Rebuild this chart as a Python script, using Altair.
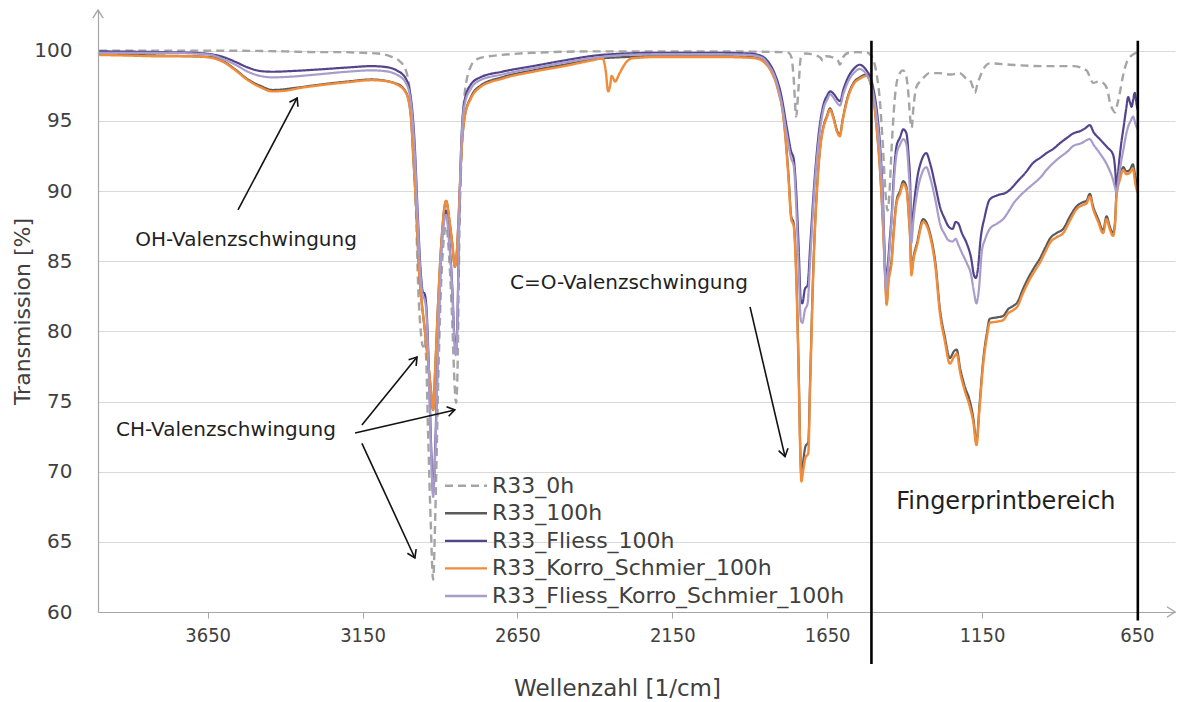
import altair as alt
import pandas as pd

# ---------------- data (wavenumber [1/cm], transmission [%]) ----------------
r33_0h = [(4000,100.0),(3800,100.0),(3600,100.0),(3400,99.95),(3300,99.9),(3220,99.9),(3150,99.85),(3100,99.8),
          (3060,99.6),(3030,99.25),(3010,98.6),(2998,97.2),(2988,94.5),(2978,89.0),(2970,83.0),(2962,80.0),
          (2955,78.9),(2950,79.4),(2945,78.3),(2938,72.5),(2930,66.5),(2922,62.3),(2915,67.0),(2905,77.0),
          (2895,84.0),(2880,87.5),(2870,85.2),(2860,80.5),(2853,76.3),(2848,74.9),(2843,77.5),(2838,86.0),
          (2830,93.0),(2820,97.0),(2800,98.9),(2780,99.4),(2740,99.6),(2700,99.7),(2600,99.85),(2400,99.95),
          (2000,99.95),(1800,99.9),(1775,99.85),(1765,99.5),(1758,98.0),(1750,95.3),(1743,97.2),(1735,99.5),
          (1720,99.8),(1690,99.7),(1672,99.5),(1664,99.3),(1655,99.6),(1630,99.5),(1615,99.3),(1609,99.0),
          (1600,99.5),(1580,99.85),(1550,99.9),(1520,99.85),(1510,99.7),(1500,99.3),(1490,98.3),(1480,96.5),
          (1470,93.2),(1462,90.0),(1455,88.6),(1449,89.8),(1442,93.0),(1432,96.5),(1420,98.2),(1405,98.6),
          (1396,98.3),(1388,97.0),(1382,95.2),(1377,94.5),(1372,95.8),(1362,97.4),(1345,97.9),(1320,98.4),
          (1290,98.4),(1250,98.3),(1222,98.4),(1200,98.0),(1189,97.9),(1178,97.3),(1173,97.0),(1165,97.6),
          (1152,98.4),(1125,99.1),(1060,99.0),(960,98.9),(899,98.9),(856,98.9),(813,98.6),(791,97.7),
          (775,97.8),(759,97.7),(745,97.2),(737,96.3),(728,95.8),(721,95.6),(713,96.2),(705,97.0),
          (695,98.2),(684,99.1),(670,99.6),(657,99.8),(648,99.9)]

r33_100h = [(4000,99.75),(3800,99.65),(3640,99.55),(3600,99.25),(3560,98.65),(3520,97.95),(3480,97.5),(3440,97.2),
            (3350,97.4),(3300,97.55),(3200,97.8),(3120,97.95),(3040,97.65),(3010,97.05),(2995,95.6),(2985,92.0),
            (2975,88.0),(2968,84.5),(2960,82.3),(2950,80.3),(2940,78.2),(2930,76.0),(2922,74.4),(2915,77.5),
            (2905,82.5),(2895,86.5),(2880,89.3),(2870,88.0),(2860,86.2),(2852,84.6),(2846,85.5),(2838,89.0),
            (2830,93.0),(2820,95.3),(2800,96.7),(2770,97.5),(2700,98.1),(2600,98.6),(2500,99.0),(2400,99.4),
            (2300,99.55),(2200,99.6),(2000,99.6),(1900,99.55),(1870,99.45),(1850,99.15),(1830,98.55),(1810,97.4),
            (1790,95.1),(1775,91.2),(1766,88.2),(1758,87.7),(1750,84.3),(1742,77.3),(1737,71.8),(1733,69.6),
            (1728,70.6),(1720,71.8),(1711,72.1),(1705,76.5),(1695,84.3),(1680,91.2),(1670,93.6),(1663,94.5),
            (1650,95.4),(1641,95.9),(1630,95.3),(1618,94.3),(1609,94.0),(1600,95.1),(1585,96.6),(1565,97.7),
            (1545,98.1),(1523,98.3),(1512,97.9),(1500,96.6),(1490,94.5),(1478,91.1),(1469,87.3),(1462,83.6),
            (1458,82.0),(1452,83.7),(1442,85.1),(1435,87.2),(1426,89.3),(1415,90.0),(1404,90.7),(1394,90.3),
            (1386,88.2),(1382,86.7),(1378,84.2),(1372,85.2),(1360,86.3),(1340,88.0),(1318,87.0),(1300,84.8),
            (1286,81.6),(1270,79.6),(1254,78.1),(1240,78.6),(1232,78.7),(1220,77.3),(1206,76.1),(1189,75.0),
            (1178,73.8),(1168,72.1),(1158,74.8),(1146,78.0),(1135,79.8),(1125,80.9),(1100,81.0),(1082,81.1),
            (1065,81.6),(1050,81.8),(1035,82.1),(1020,82.9),(996,84.0),(980,84.6),(963,85.2),(945,86.0),
            (931,86.6),(910,87.0),(888,87.3),(866,88.2),(845,88.9),(825,89.2),(813,89.3),(802,89.8),
            (791,88.9),(775,88.0),(759,87.2),(748,88.2),(738,87.5),(727,87.0),(721,87.7),(716,89.8),
            (705,91.0),(694,91.7),(684,91.4),(673,91.5),(663,91.9),(655,91.0),(648,90.3)]

r33_fliess_100h = [(4000,99.95),(3800,99.9),(3700,99.85),(3640,99.75),(3600,99.55),(3560,99.2),(3520,98.8),(3480,98.55),
                   (3440,98.5),(3380,98.55),(3300,98.65),(3200,98.8),(3120,98.9),(3080,98.85),(3040,98.6),(3010,98.0),
                   (2995,96.8),(2982,93.5),(2972,88.5),(2962,84.2),(2955,82.8),(2950,82.7),(2944,81.8),(2936,77.5),
                   (2928,71.5),(2922,68.5),(2915,72.0),(2905,80.0),(2895,86.0),(2880,88.6),(2870,86.5),(2860,83.0),
                   (2854,79.8),(2849,78.6),(2844,80.5),(2838,88.0),(2830,94.0),(2820,96.5),(2800,97.6),(2770,98.1),
                   (2700,98.5),(2600,98.9),(2500,99.3),(2400,99.65),(2300,99.8),(2200,99.85),(2000,99.85),(1900,99.8),
                   (1860,99.6),(1840,99.2),(1820,98.4),(1800,97.0),(1780,94.5),(1766,92.8),(1758,92.3),(1750,90.0),
                   (1742,86.0),(1735,82.2),(1730,82.0),(1722,83.0),(1713,83.3),(1705,86.0),(1690,91.0),(1675,94.5),
                   (1660,96.3),(1650,96.8),(1640,97.1),(1628,96.9),(1615,96.5),(1608,96.4),(1598,97.2),(1580,98.2),
                   (1560,98.8),(1545,99.0),(1535,98.9),(1520,98.5),(1512,98.2),(1500,97.2),(1490,95.8),(1480,93.5),
                   (1470,89.5),(1465,86.0),(1460,83.4),(1455,84.5),(1448,86.5),(1442,88.2),(1435,91.0),(1426,93.2),
                   (1415,93.8),(1404,94.4),(1394,94.1),(1387,92.5),(1382,90.6),(1378,86.8),(1372,88.5),(1360,90.8),
                   (1345,92.2),(1330,92.7),(1318,92.0),(1300,90.3),(1286,88.9),(1270,88.0),(1259,87.5),(1245,87.3),
                   (1235,87.8),(1227,87.7),(1215,87.0),(1200,86.3),(1185,85.2),(1176,84.0),(1170,83.8),(1163,84.5),
                   (1155,86.5),(1141,88.2),(1125,89.4),(1100,89.7),(1071,89.9),(1055,90.2),(1039,90.6),(1010,91.3),
                   (985,92.0),(960,92.4),(942,92.7),(920,93.0),(899,93.4),(875,93.8),(856,94.1),(830,94.3),
                   (815,94.5),(802,94.7),(790,94.2),(770,93.7),(745,93.1),(727,92.6),(720,91.5),(716,90.1),
                   (710,91.5),(700,93.5),(694,94.4),(685,95.8),(678,96.7),(672,96.3),(667,96.0),(662,96.5),
                   (657,97.0),(652,96.3),(648,95.8)]

r33_korro_schmier_100h = [(4000,99.7),(3900,99.65),(3800,99.6),(3700,99.6),(3640,99.5),(3600,99.2),(3560,98.6),(3520,97.9),
                          (3480,97.4),(3440,97.1),(3400,97.15),(3350,97.35),(3300,97.5),(3200,97.75),(3120,97.9),(3080,97.85),
                          (3040,97.6),(3010,97.0),(2995,95.5),(2985,92.0),(2975,88.0),(2968,84.5),(2960,82.3),(2950,80.3),
                          (2940,78.2),(2930,76.0),(2922,74.4),(2915,77.5),(2905,82.5),(2895,86.5),(2880,89.3),(2870,88.0),
                          (2860,86.2),(2852,84.6),(2846,85.5),(2838,89.0),(2830,93.0),(2820,95.3),(2800,96.6),(2770,97.4),
                          (2700,98.0),(2600,98.5),(2500,98.9),(2400,99.35),(2375,99.45),(2365,98.6),(2357,97.1),(2350,97.6),
                          (2346,98.2),(2340,98.0),(2335,97.8),(2320,98.4),(2298,99.2),(2281,99.45),(2200,99.55),(2000,99.55),
                          (1900,99.5),(1870,99.4),(1850,99.1),(1830,98.5),(1810,97.3),(1790,95.0),(1775,91.0),(1766,88.0),
                          (1758,87.5),(1750,84.0),(1742,77.0),(1737,71.5),(1733,69.3),(1728,70.0),(1720,71.0),(1711,71.3),
                          (1705,76.0),(1695,84.0),(1680,91.0),(1670,93.5),(1663,94.4),(1650,95.3),(1641,95.8),(1630,95.2),
                          (1618,94.2),(1609,93.9),(1600,95.0),(1585,96.5),(1565,97.6),(1545,98.0),(1523,98.2),(1512,97.8),
                          (1500,96.5),(1490,94.4),(1478,91.0),(1469,87.2),(1462,83.5),(1458,81.9),(1452,83.5),(1442,84.9),
                          (1435,87.0),(1426,89.1),(1415,89.8),(1404,90.5),(1394,90.1),(1386,88.0),(1382,86.5),(1378,84.0),
                          (1372,85.0),(1360,86.1),(1340,87.8),(1318,86.8),(1300,84.5),(1286,81.3),(1270,79.3),(1254,77.7),
                          (1240,78.2),(1232,78.4),(1220,77.0),(1206,75.8),(1189,74.6),(1178,73.5),(1168,71.9),(1158,74.5),
                          (1146,77.7),(1135,79.5),(1125,80.6),(1100,80.7),(1082,80.8),(1065,81.3),(1050,81.5),(1035,81.8),
                          (1020,82.6),(996,83.7),(980,84.3),(963,84.9),(945,85.7),(931,86.3),(910,86.7),(888,87.0),
                          (866,87.9),(845,88.7),(825,89.0),(813,89.1),(802,89.6),(791,88.7),(775,87.8),(759,87.0),
                          (748,88.0),(738,87.3),(727,86.8),(721,87.5),(716,89.6),(705,90.8),(694,91.5),(684,91.2),
                          (673,91.3),(663,91.6),(655,90.5),(648,89.9)]

r33_fliess_korro_schmier_100h = [(4000,99.85),(3800,99.85),(3700,99.8),(3640,99.7),(3600,99.4),(3560,99.0),(3520,98.5),(3480,98.2),
                                 (3440,98.1),(3380,98.15),(3300,98.3),(3200,98.5),(3120,98.6),(3080,98.55),(3040,98.3),(3010,97.7),
                                 (2995,96.5),(2982,93.0),(2972,88.0),(2962,83.8),(2955,82.5),(2950,82.3),(2944,81.4),(2936,77.0),
                                 (2928,71.0),(2922,68.2),(2915,71.5),(2905,79.5),(2895,85.8),(2880,88.3),(2870,86.2),(2860,82.8),
                                 (2854,79.5),(2849,78.3),(2844,80.2),(2838,87.8),(2830,93.8),(2820,96.2),(2800,97.3),(2770,97.9),
                                 (2700,98.3),(2600,98.75),(2500,99.15),(2400,99.5),(2300,99.7),(2200,99.75),(2000,99.75),(1900,99.7),
                                 (1860,99.5),(1840,99.0),(1820,98.2),(1800,96.6),(1780,94.0),(1766,92.3),(1758,91.8),(1750,89.0),
                                 (1742,84.5),(1735,80.8),(1730,80.6),(1722,81.5),(1713,82.0),(1705,85.0),(1690,90.5),(1675,94.0),
                                 (1660,96.0),(1650,96.5),(1640,96.9),(1628,96.6),(1615,96.2),(1608,96.1),(1598,96.9),(1580,97.9),
                                 (1560,98.5),(1545,98.7),(1535,98.6),(1520,98.2),(1512,97.8),(1500,96.8),(1490,95.3),(1480,93.0),
                                 (1470,89.0),(1465,85.5),(1460,83.0),(1455,84.0),(1448,86.0),(1442,87.8),(1435,90.5),(1426,92.6),
                                 (1415,93.3),(1404,93.7),(1394,93.3),(1387,91.5),(1382,89.5),(1378,86.3),(1372,87.8),(1360,89.8),
                                 (1345,91.2),(1330,91.7),(1318,91.0),(1300,89.3),(1286,87.7),(1270,86.9),(1259,86.5),(1245,86.4),
                                 (1235,86.6),(1227,86.2),(1215,85.6),(1200,84.9),(1185,84.0),(1176,82.8),(1168,82.0),(1160,83.0),
                                 (1150,85.8),(1141,86.5),(1125,87.3),(1100,87.7),(1082,88.0),(1060,88.7),(1049,89.1),(1030,89.6),
                                 (1006,90.1),(985,90.5),(960,91.0),(942,91.5),(920,92.0),(899,92.4),(875,92.8),(856,93.2),
                                 (830,93.4),(802,93.7),(790,93.3),(770,92.7),(745,91.8),(727,90.8),(720,90.2),(716,89.9),
                                 (710,90.8),(700,92.2),(694,92.9),(685,94.0),(678,94.6),(670,95.0),(662,95.3),(655,94.8),
                                 (648,94.4)]

series_names = ["R33_0h", "R33_100h", "R33_Fliess_100h", "R33_Korro_Schmier_100h", "R33_Fliess_Korro_Schmier_100h"]
series_data = [r33_0h, r33_100h, r33_fliess_100h, r33_korro_schmier_100h, r33_fliess_korro_schmier_100h]
series_colors = ["#a5a5a5", "#5a5a5a", "#54448c", "#f08c3a", "#a89ccb"]
series_dash = [[8, 5], [1, 0], [1, 0], [1, 0], [1, 0]]
series_width = [2.4, 2.2, 2.2, 2.4, 2.2]

x_ticks = [3650, 3150, 2650, 2150, 1650, 1150, 650]
y_ticks = [60, 65, 70, 75, 80, 85, 90, 95, 100]

# annotations
labels = ["OH-Valenzschwingung", "CH-Valenzschwingung", "C=O-Valenzschwingung"]
label_wn = [3526, 3591, 2290]
label_t = [86.5, 73.0, 83.45]
region_label = ["Fingerprintbereich"]
region_wn = [1073]
region_t = [67.85]

arrow_start_wn = [3552, 3152, 3174, 3152, 1899]
arrow_start_t = [88.65, 73.33, 72.76, 72.02, 81.74]
arrow_tip_wn = [3361, 2974, 2852, 2981, 1786]
arrow_tip_t = [96.63, 78.17, 74.4, 63.85, 71.07]
arrow_angle = [297.8, 309.0, 347.2, 65.3, 76.5]

boundary_wn = [1507, 647]
boundary_top = [100.7, 100.7]
boundary_bottom = [56.3, 59.4]

X_MIN, X_MAX = 527, 4004
Y_MIN, Y_MAX = 60, 102.9

FONT = "DejaVu Sans"
TXT = "#404040"
AX = "#a6a6a6"
CHEVRON = "M-1,-0.65L0,0L-1,0.65"

xs = alt.Scale(domain=[X_MIN, X_MAX], reverse=True, zero=False, nice=False)
ys = alt.Scale(domain=[Y_MIN, Y_MAX], zero=False, nice=False)

xaxis = alt.Axis(values=x_ticks, format="d", grid=False, ticks=True, tickSize=6, tickColor=AX, domainColor=AX,
                 domainWidth=1.2, labelFont="DejaVu Sans Condensed, DejaVu Sans", labelFontSize=20,
                 labelColor=TXT, labelPadding=7, labelFlush=False, labelOverlap=False,
                 title="Wellenzahl [1/cm]", titleFont=FONT, titleFontSize=23, titleFontWeight="normal",
                 titleColor=TXT, titleX=519, titleY=76, titleBaseline="middle", titleAlign="center")
yaxis = alt.Axis(values=y_ticks, format="d", grid=True, gridColor="#d9d9d9", gridWidth=1.2, ticks=False, tickSize=0,
                 domainColor=AX, domainWidth=1.2, labelFont=FONT, labelFontSize=20, labelColor=TXT,
                 labelPadding=26, labelFlush=False,
                 title="Transmission [%]", titleFont=FONT, titleFontSize=22, titleFontWeight="normal",
                 titleColor=TXT, titleX=-76, titleY=301, titleAngle=270, titleBaseline="middle",
                 titleAlign="center")

X = lambda f: alt.X(f, type="quantitative", scale=xs, axis=xaxis)
Y = lambda f: alt.Y(f, type="quantitative", scale=ys, axis=yaxis)

layers = []
for name, pts, col, dash, w in zip(series_names, series_data, series_colors, series_dash, series_width):
    df = pd.DataFrame({"wn": [p[0] for p in pts], "T": [p[1] for p in pts]})
    layers.append(
        alt.Chart(df).mark_line(color=col, strokeWidth=w, strokeDash=dash, interpolate="monotone")
        .encode(x=X("wn"), y=Y("T"), order=alt.Order("wn:Q", sort="descending"))
    )

bnd = pd.DataFrame({"wn": boundary_wn, "top": boundary_top, "bottom": boundary_bottom})
layers.append(alt.Chart(bnd).mark_rule(color="black", strokeWidth=2.6)
              .encode(x=X("wn"), y=Y("top"), y2="bottom"))

arr = pd.DataFrame({"x0": arrow_start_wn, "y0": arrow_start_t, "x1": arrow_tip_wn, "y1": arrow_tip_t,
                    "ang": arrow_angle})
layers.append(alt.Chart(arr).mark_rule(color="#111111", strokeWidth=1.6)
              .encode(x=X("x0"), y=Y("y0"), x2="x1", y2="y1"))
layers.append(alt.Chart(arr).mark_point(shape=CHEVRON, filled=False, size=220, color="#111111",
                                        strokeWidth=1.6, opacity=1)
              .encode(x=X("x1"), y=Y("y1"), angle=alt.Angle("ang:Q", scale=None)))

axarr = pd.DataFrame({"wn": [X_MIN, X_MAX], "T": [Y_MIN, Y_MAX], "ang": [0, 270]})
layers.append(alt.Chart(axarr).mark_point(shape=CHEVRON, filled=False, size=260, color=AX,
                                          strokeWidth=1.4, opacity=1)
              .encode(x=X("wn"), y=Y("T"), angle=alt.Angle("ang:Q", scale=None)))

lab = pd.DataFrame({"wn": label_wn, "T": label_t, "txt": labels})
layers.append(alt.Chart(lab).mark_text(font=FONT, fontSize=20, color="#1f1f1f", align="center",
                                       baseline="middle")
              .encode(x=X("wn"), y=Y("T"), text="txt:N"))
reg = pd.DataFrame({"wn": region_wn, "T": region_t, "txt": region_label})
layers.append(alt.Chart(reg).mark_text(font=FONT, fontSize=24, color="#1f1f1f", align="center",
                                       baseline="middle")
              .encode(x=X("wn"), y=Y("T"), text="txt:N"))

main = alt.layer(*layers)

# legend built from the series lists
leg = pd.DataFrame({"name": series_names})
leg_y = alt.Y("name:N", scale=alt.Scale(type="point", domain=series_names, range=[475.7, 586], padding=0),
              axis=None)
leg_color = alt.Color("name:N", scale=alt.Scale(domain=series_names, range=series_colors), legend=None)
leg_dash = alt.StrokeDash("name:N", scale=alt.Scale(domain=series_names, range=series_dash), legend=None)
legend_sym = alt.Chart(leg).mark_rule(strokeWidth=2.4).encode(
    x=alt.value(347), x2=alt.value(389), y=leg_y, color=leg_color, strokeDash=leg_dash)
legend_txt = alt.Chart(leg).mark_text(font=FONT, fontSize=22, color=TXT, align="left",
                                      baseline="middle").encode(x=alt.value(394), y=leg_y, text="name:N")
legend = alt.layer(legend_sym, legend_txt)

chart = alt.layer(main, legend).resolve_scale(y="independent", color="independent",
                                              strokeDash="independent").properties(
    width=1077, height=602,
    autosize=alt.AutoSizeParams(type="none"),
    padding={"left": 98, "top": 10, "right": 11, "bottom": 90},
    background="white",
).configure_view(stroke=None)

chart.save("out.html", embed_options={"renderer": "svg", "actions": False})
